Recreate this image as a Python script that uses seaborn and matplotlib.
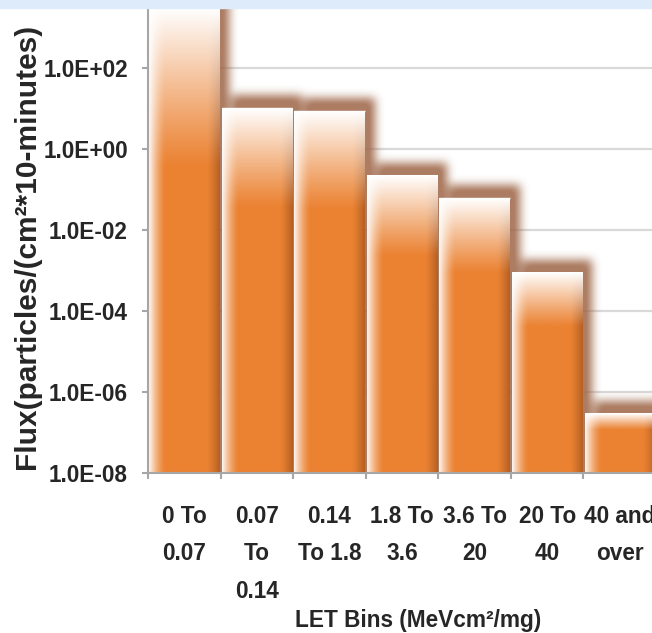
import numpy as np
import pandas as pd
import matplotlib
matplotlib.use("Agg")
import matplotlib.pyplot as plt
import seaborn as sns
from matplotlib import font_manager
from matplotlib.patches import Rectangle
from matplotlib.ticker import FixedLocator, FuncFormatter, NullLocator

# ---------------- data ----------------
categories = ["0 To\n0.07", "0.07\nTo\n0.14", "0.14\nTo 1.8", "1.8 To\n3.6",
              "3.6 To\n20", "20 To\n40", "40 and\nover"]
flux = [5.0e3, 10.2, 8.7, 0.22, 0.061, 8.8e-4, 2.9e-7]
ytick_values = [1e-8, 1e-6, 1e-4, 1e-2, 1e0, 1e2]
x_title = "LET Bins (MeVcm²/mg)"
y_title = "Flux(particles/(cm²*10-minutes)"

# ---------------- style ----------------
sns.set_theme(style="white")
wide = ["Liberation Sans", "DejaVu Sans"]
plt.rcParams["font.family"] = wide
plt.rcParams["font.weight"] = "bold"

TICK = 16.3


def NF(size):
    return font_manager.FontProperties(family=wide, weight="bold", size=size)


ORANGE = "#EB8232"
GRID = "#D9D9D9"
AXC = "#A6A6A6"

FW, FH = 652, 633
fig = plt.figure(figsize=(FW / 100, FH / 100), dpi=100)
L, R, T, Bt = 148, 656, 8, 472.7
ax = fig.add_axes([L / FW, 1 - Bt / FH, (R - L) / FW, (Bt - T) / FH])

df = pd.DataFrame({"LET": categories, "Flux": flux})
sns.barplot(data=df, x="LET", y="Flux", ax=ax, color=ORANGE, width=0.97,
            edgecolor="white", linewidth=1.0, saturation=1, errorbar=None,
            log_scale=True)
bars = list(ax.patches)
for p in bars:
    p.set_zorder(2)

YTOP = 10 ** 3.488
ax.set_ylim(1e-8, YTOP)
ax.set_xlim(-0.5, len(categories) - 0.5)
ax.autoscale(False)

to_axes = ax.transData + ax.transAxes.inverted()
Wpx = int(round(R - L))
Hpx = int(round(Bt - T))


def box_blur(a, r):
    for axis in (0, 1):
        pad = [(0, 0), (0, 0)]
        pad[axis] = (r + 1, r)
        p = np.pad(a, pad, mode="edge")
        c = np.cumsum(p, axis=axis)
        if axis == 0:
            a = (c[2 * r + 1:, :] - c[:-2 * r - 1, :]) / (2 * r + 1)
        else:
            a = (c[:, 2 * r + 1:] - c[:, :-2 * r - 1]) / (2 * r + 1)
    return a


def bar_axes_box(p):
    x0, _ = to_axes.transform((p.get_x(), 1e-8))
    x1, y1 = to_axes.transform((p.get_x() + p.get_width(), p.get_height()))
    return x0, x1, y1


# ---------------- shadow ----------------
dx, dy = 10, 13
mask = np.zeros((Hpx, Wpx))
for p in bars:
    x0, x1, y1 = bar_axes_box(p)
    c0 = int(round(x0 * Wpx)) + dx
    c1 = int(round(x1 * Wpx)) + dx
    r0 = int(round((1 - y1) * Hpx)) - dy
    mask[max(r0, 0):Hpx, max(c0, 0):min(c1, Wpx)] = 1.0
for _ in range(3):
    mask = box_blur(mask, 4)
shadow = np.zeros((Hpx, Wpx, 4))
shadow[..., 0] = 0.62
shadow[..., 1] = 0.40
shadow[..., 2] = 0.28
shadow[..., 3] = np.clip(mask * 1.1, 0, 1) * 0.85
ax.imshow(shadow, extent=(0, 1, 0, 1), transform=ax.transAxes, origin="upper",
          interpolation="bilinear", aspect="auto", zorder=1.5)

# ---------------- bar gradients ----------------
base = np.array(matplotlib.colors.to_rgb(ORANGE))
white = np.ones(3)
dark = np.array([0.64, 0.33, 0.12])
for p in bars:
    x0, x1, y1 = bar_axes_box(p)
    ytop = min(y1, 1.0)
    nx = max(int(round((x1 - x0) * Wpx)), 2)
    ny = max(int(round(ytop * Hpx)), 2)
    t = np.arange(ny)[:, None].astype(float)
    px = np.arange(nx)[None, :].astype(float)
    g = 0.27 * ny if y1 <= 1 else 0.34 * ny
    wv = np.clip(1 - t / g, 0, 1) ** 1.1
    wl = np.clip(1 - px / 16, 0, 1) ** 1.5 * 0.9
    wr = np.clip((px - (nx - 13)) / 13, 0, 1) ** 1.2 * 0.8
    img = base[None, None, :] * np.ones((ny, nx, 1))
    img = img * (1 - wr[..., None]) + dark * wr[..., None]
    img = img * (1 - wl[..., None]) + white * wl[..., None]
    img = img * (1 - wv[..., None]) + white * wv[..., None]
    ax.imshow(np.clip(img, 0, 1), extent=(x0, x1, 0, ytop), transform=ax.transAxes,
              origin="upper", interpolation="bilinear", aspect="auto", zorder=2.5)

ax.set_ylim(1e-8, YTOP)
ax.set_xlim(-0.5, len(categories) - 0.5)

# ---------------- axes styling ----------------
ax.yaxis.set_major_locator(FixedLocator(ytick_values))
ax.yaxis.set_minor_locator(NullLocator())
ax.yaxis.set_major_formatter(FuncFormatter(lambda v, pos: f"{v:.1E}"))
ax.yaxis.grid(True, color=GRID, lw=1.6, zorder=0.5)
ax.xaxis.grid(False)
ax.set_axisbelow(True)

ax.set_xticks(range(len(categories)))
ax.set_xticklabels(categories)
ax.set_xticks(np.arange(-0.5, len(categories), 1), minor=True)
ax.tick_params(axis="x", which="major", length=0, pad=23, bottom=True)
ax.tick_params(axis="x", which="minor", length=4, width=1.5, color=AXC, bottom=True)
ax.tick_params(axis="y", which="major", length=4.5, width=1.5, color=AXC, pad=10,
               left=True)
for lbl in ax.get_xticklabels():
    lbl.set_fontproperties(NF(TICK))
    lbl.set_linespacing(1.82)
for lbl in ax.get_yticklabels():
    lbl.set_fontproperties(NF(TICK))

for s in ("top", "right"):
    ax.spines[s].set_visible(False)
for s in ("left", "bottom"):
    ax.spines[s].set_color(AXC)
    ax.spines[s].set_linewidth(1.5)
    ax.spines[s].set_zorder(3)
ax.set_xlabel("")
ax.set_ylabel("")

fig.text(418 / FW, 1 - 620 / FH, x_title, ha="center", va="center",
         fontproperties=NF(TICK))
fig.text(27 / FW, 1 - 246 / FH, y_title, ha="center", va="center", rotation=90,
         fontsize=21.5, fontweight="bold", family=wide)

# top band
fig.add_artist(Rectangle((0, 1 - 8 / FH), 1, 8 / FH, transform=fig.transFigure,
                         color="#DDEBFA", zorder=10))

fig.savefig("out.png", dpi=100)
